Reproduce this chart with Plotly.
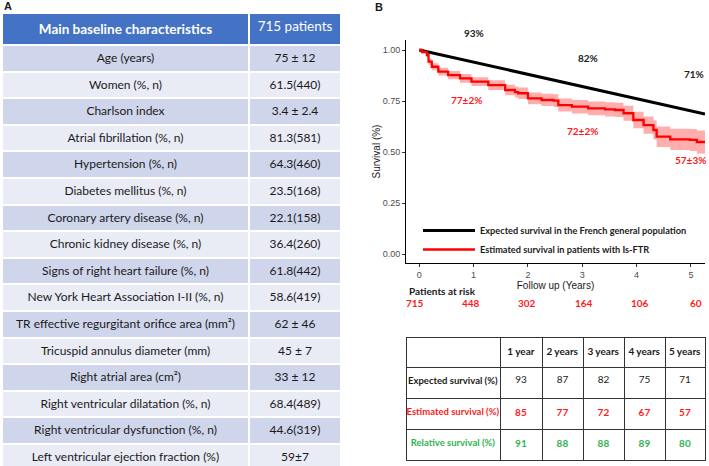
import plotly.graph_objects as go

# ---------------- Data ----------------
characteristics = [
    "Age (years)", "Women (%, n)", "Charlson index", "Atrial fibrillation (%, n)",
    "Hypertension (%, n)", "Diabetes mellitus (%, n)", "Coronary artery disease (%, n)",
    "Chronic kidney disease (%, n)", "Signs of right heart failure (%, n)",
    "New York Heart Association I-II (%, n)",
    "TR effective regurgitant orifice area (mm²)", "Tricuspid annulus diameter (mm)",
    "Right atrial area (cm²)", "Right ventricular dilatation (%, n)",
    "Right ventricular dysfunction (%, n)", "Left ventricular ejection fraction (%)",
]
char_values = [
    "75 ± 12", "61.5(440)", "3.4 ± 2.4", "81.3(581)", "64.3(460)", "23.5(168)",
    "22.1(158)", "36.4(260)", "61.8(442)", "58.6(419)", "62 ± 46", "45 ± 7",
    "33 ± 12", "68.4(489)", "44.6(319)", "59±7",
]

km_time = [0, 0.05, 0.14, 0.17, 0.23, 0.35, 0.53, 0.75, 0.96, 1.27, 1.58, 1.76, 1.82,
           2.0, 2.25, 2.47, 2.56, 2.81, 3.11, 3.42, 3.6, 3.76, 3.94, 4.13, 4.31,
           4.37, 4.62, 4.98, 5.11, 5.26]
km_surv = [1.0, 0.99, 0.975, 0.943, 0.918, 0.894, 0.877, 0.861, 0.845, 0.828, 0.804,
           0.794, 0.788, 0.763, 0.755, 0.752, 0.73, 0.722, 0.714, 0.709, 0.706, 0.69,
           0.657, 0.632, 0.608, 0.575, 0.562, 0.559, 0.549, 0.549]
km_lower = [1.0, 0.984, 0.963, 0.928, 0.901, 0.875, 0.857, 0.840, 0.823, 0.804, 0.778,
            0.767, 0.760, 0.734, 0.725, 0.721, 0.698, 0.689, 0.680, 0.674, 0.671, 0.653,
            0.617, 0.590, 0.561, 0.525, 0.510, 0.505, 0.493, 0.492]
km_upper = [1.0, 0.996, 0.987, 0.958, 0.935, 0.913, 0.897, 0.882, 0.867, 0.852, 0.830,
            0.821, 0.816, 0.792, 0.785, 0.783, 0.762, 0.755, 0.748, 0.744, 0.741, 0.727,
            0.697, 0.674, 0.655, 0.625, 0.614, 0.613, 0.605, 0.606]

expected_time = [0, 5.26]
expected_surv = [1.0, 0.686]

risk_years = [0, 1, 2, 3, 4, 5]
risk_numbers = [715, 448, 302, 164, 106, 60]

expected_labels = ["93%", "82%", "71%"]
expected_label_t = [1.0, 3.1, 5.05]
expected_label_s = [1.083, 0.961, 0.882]
estimated_labels = ["77±2%", "72±2%", "57±3%"]
estimated_label_t = [0.86, 3.01, 4.99]
estimated_label_s = [0.755, 0.603, 0.461]

year_headers = ["1 year", "2 years", "3 years", "4 years", "5 years"]
row_labels = ["Expected survival (%)", "Estimated survival (%)", "Relative survival (%)"]
expected_pct = [93, 87, 82, 75, 71]
estimated_pct = [85, 77, 72, 67, 57]
relative_pct = [91, 88, 88, 89, 80]

# ---------------- Styles ----------------
W, H = 709, 466
BLUE = "#4472C4"
ROW_DARK = "#CFD5EA"
ROW_LIGHT = "#E9EBF5"
RED = "#FF1A1A"
GREEN = "#2FB350"
TFONT = "Lato, Carlito, Calibri, sans-serif"
NFONT = "Liberation Sans Narrow, Arial Narrow, Liberation Sans, Arial, sans-serif"
NB = "\u00a0"
Y_RANGE = [-0.044, 1.049]


def nb(s):
    return s.replace(" ", NB)


def ydom(s):
    return (s - Y_RANGE[0]) / (Y_RANGE[1] - Y_RANGE[0])


fig = go.Figure()

# ---- Left table ----
row_fill = [ROW_DARK if i % 2 == 0 else ROW_LIGHT for i in range(len(characteristics))]
fig.add_trace(go.Table(
    domain=dict(x=[2 / W, 341 / W], y=[0.0, 1 - 13 / H]),
    columnwidth=[247, 92],
    header=dict(
        values=["<b>" + nb("Main baseline characteristics") + "</b>", nb("715 patients")],
        fill_color=BLUE, line=dict(color="white", width=2),
        font=dict(color="white", size=13.5, family=TFONT),
        align="center", height=25,
    ),
    cells=dict(
        values=[[nb(c) for c in characteristics], [nb(v) for v in char_values]],
        fill_color=[row_fill, row_fill],
        line=dict(color="white", width=2),
        font=dict(color="#1a1a1a", size=12, family=TFONT),
        align="center", height=26.6,
    ),
))

# ---- Bottom right table ----
col_colors = ["#1a1a1a", RED, GREEN]
first_col = ["<b>" + nb(r) + "</b>" for r in row_labels]
value_cols = []
for i in range(5):
    value_cols.append([
        str(expected_pct[i]),
        "<b>" + str(estimated_pct[i]) + "</b>",
        "<b>" + str(relative_pct[i]) + "</b>",
    ])
fig.add_trace(go.Table(
    domain=dict(x=[406 / W, 705 / W], y=[0.0, 1 - 337 / H]),
    columnwidth=[94, 42, 41, 41, 41, 40],
    header=dict(
        values=[""] + ["<b>" + nb(h) + "</b>" for h in year_headers],
        fill_color="white", line=dict(color="#333333", width=1),
        font=dict(color="#1a1a1a", size=10, family=TFONT),
        align="center", height=30,
    ),
    cells=dict(
        values=[first_col] + value_cols,
        fill_color="white", line=dict(color="#333333", width=1),
        font=dict(color=[col_colors] * 6, size=[9.5, 10, 10, 10, 10, 10], family=TFONT),
        align="center", height=31,
    ),
))

# ---- KM plot ----
fig.add_trace(go.Scatter(
    x=km_time, y=km_lower, mode="lines", line=dict(width=0, shape="hv"),
    showlegend=False, hoverinfo="skip",
))
fig.add_trace(go.Scatter(
    x=km_time, y=km_upper, mode="lines", line=dict(width=0, shape="hv"),
    fill="tonexty", fillcolor="rgba(255,60,60,0.42)", showlegend=False, hoverinfo="skip",
))
fig.add_trace(go.Scatter(
    x=expected_time, y=expected_surv, mode="lines",
    line=dict(color="black", width=3),
    name="<b>Expected survival in the French general population</b>",
))
fig.add_trace(go.Scatter(
    x=km_time, y=km_surv, mode="lines", line=dict(color="#FF0000", width=2.3, shape="hv"),
    name="<b>Estimated survival in patients with Is-FTR</b>",
))

ann = []
for t, s, lab in zip(expected_label_t, expected_label_s, expected_labels):
    ann.append(dict(x=t, y=ydom(s), xref="x", yref="y domain", text="<b>" + lab + "</b>",
                    showarrow=False, yanchor="middle",
                    font=dict(size=10, color="#222222", family=TFONT)))
for t, s, lab in zip(estimated_label_t, estimated_label_s, estimated_labels):
    ann.append(dict(x=t, y=ydom(s), xref="x", yref="y domain", text="<b>" + lab + "</b>",
                    showarrow=False, yanchor="middle",
                    font=dict(size=10, color=RED, family=TFONT)))
for t, n in zip(risk_years, risk_numbers):
    ann.append(dict(x=t * 1.035 - 0.08, y=1 - 303 / H, xref="x", yref="paper",
                    yanchor="middle", text="<b>" + str(n) + "</b>", showarrow=False,
                    font=dict(size=10, color=RED, family=TFONT)))
ann.append(dict(x=407 / W, y=1 - 291 / H, xref="paper", yref="paper", xanchor="left",
                yanchor="middle", text="<b>Patients at risk</b>", showarrow=False,
                font=dict(size=10, color="#1a1a1a", family=TFONT)))
ann.append(dict(x=2 / W, y=1 - 6 / H, xref="paper", yref="paper", xanchor="left",
                yanchor="middle", text="<b>A</b>", showarrow=False,
                font=dict(size=11, color="#1a1a1a", family="Liberation Sans, Arial")))
ann.append(dict(x=373 / W, y=1 - 7 / H, xref="paper", yref="paper", xanchor="left",
                yanchor="middle", text="<b>B</b>", showarrow=False,
                font=dict(size=11, color="#1a1a1a", family="Liberation Sans, Arial")))

fig.update_layout(
    width=W, height=H,
    margin=dict(l=0, r=0, t=0, b=0),
    paper_bgcolor="white", plot_bgcolor="white",
    annotations=ann,
    showlegend=True,
    legend=dict(x=418 / W, y=1 - 216 / H, xanchor="left", yanchor="top",
                bgcolor="rgba(0,0,0,0)", font=dict(size=9.2, color="#1a1a1a", family=TFONT),
                itemwidth=52, tracegroupgap=0, traceorder="normal"),
    xaxis=dict(
        domain=[406 / W, 705 / W], range=[-0.245, 5.26],
        tickvals=[0, 1, 2, 3, 4, 5], ticks="outside", ticklen=3, tickcolor="#333333",
        showline=True, linecolor="black", linewidth=1, showgrid=False, zeroline=False,
        tickfont=dict(size=9, color="#4D4D4D", family=NFONT),
        title=dict(text="Follow up (Years)", font=dict(size=10, color="#1a1a1a", family=NFONT),
                   standoff=3),
    ),
    yaxis=dict(
        domain=[1 - 263 / H, 1 - 40 / H], range=Y_RANGE,
        tickvals=[0, 0.25, 0.5, 0.75, 1.0], tickformat=".2f",
        ticks="outside", ticklen=3, tickcolor="#333333",
        showline=True, linecolor="black", linewidth=1, showgrid=False, zeroline=False,
        tickfont=dict(size=9, color="#4D4D4D", family=NFONT),
        title=dict(text="Survival (%)", font=dict(size=10, color="#1a1a1a", family=NFONT),
                   standoff=0),
    ),
)

fig.write_html("out.html", config={"displayModeBar": False},
               post_script="document.body.style.margin='0px';")
